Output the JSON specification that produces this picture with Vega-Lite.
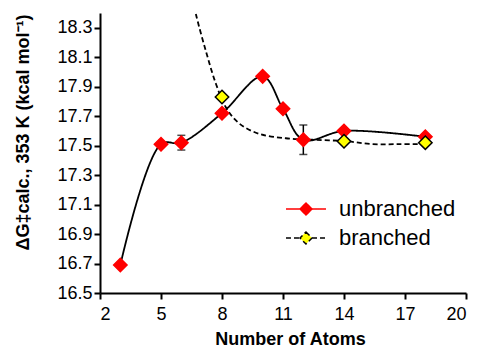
{
  "$schema": "https://vega.github.io/schema/vega-lite/v6.json",
  "autosize": {"type": "none"},
  "width": 366,
  "height": 280,
  "padding": {"left": 100, "top": 13, "right": 13, "bottom": 55},
  "background": "white",
  "config": {
    "font": "Liberation Sans",
    "view": {"stroke": null},
    "axis": {
      "domainColor": "black", "domainWidth": 2, "tickColor": "black", "tickWidth": 2, "tickSize": 6,
      "labelColor": "black", "labelFontSize": 18, "grid": false, "labelOverlap": false,
      "titleColor": "black", "titleFontSize": 18, "titleFontWeight": "bold"
    }
  },
  "data": {"values": [
    {"series": "unbranched", "kind": "point", "x": 3, "y": 16.69},
    {"series": "unbranched", "kind": "point", "x": 5, "y": 17.51},
    {"series": "unbranched", "kind": "point", "x": 6, "y": 17.52, "lo": 17.47, "hi": 17.57},
    {"series": "unbranched", "kind": "point", "x": 8, "y": 17.72},
    {"series": "unbranched", "kind": "point", "x": 10, "y": 17.97},
    {"series": "unbranched", "kind": "point", "x": 11, "y": 17.75},
    {"series": "unbranched", "kind": "point", "x": 12, "y": 17.54, "lo": 17.44, "hi": 17.64},
    {"series": "unbranched", "kind": "point", "x": 14, "y": 17.6},
    {"series": "unbranched", "kind": "point", "x": 18, "y": 17.56},
    {"series": "branched", "kind": "point", "x": 8, "y": 17.83},
    {"series": "branched", "kind": "point", "x": 14, "y": 17.53},
    {"series": "branched", "kind": "point", "x": 18, "y": 17.52},
    {"series": "branched", "kind": "curve", "x": 6.55, "y": 18.5},
    {"series": "branched", "kind": "curve", "x": 6.72, "y": 18.39},
    {"series": "branched", "kind": "curve", "x": 7.21, "y": 18.14},
    {"series": "branched", "kind": "curve", "x": 7.7, "y": 17.92},
    {"series": "branched", "kind": "curve", "x": 8.19, "y": 17.76},
    {"series": "branched", "kind": "curve", "x": 8.85, "y": 17.65},
    {"series": "branched", "kind": "curve", "x": 9.83, "y": 17.58},
    {"series": "branched", "kind": "curve", "x": 11.14, "y": 17.55},
    {"series": "branched", "kind": "curve", "x": 12.45, "y": 17.54},
    {"series": "branched", "kind": "curve", "x": 14.1, "y": 17.53},
    {"series": "branched", "kind": "curve", "x": 15.41, "y": 17.51},
    {"series": "branched", "kind": "curve", "x": 16.7, "y": 17.51},
    {"series": "branched", "kind": "curve", "x": 18, "y": 17.51}
  ]},
  "layer": [
    {
      "transform": [{"filter": "datum.kind == 'curve' || datum.series == 'unbranched'"}],
      "mark": {"type": "line", "interpolate": "catmull-rom", "color": "black", "strokeWidth": 1.8, "clip": true},
      "encoding": {
        "x": {"field": "x", "type": "quantitative", "scale": {"domain": [2, 20]}, "title": "Number of Atoms",
              "axis": {"values": [2, 5, 8, 11, 14, 17, 20], "tickCount": 7, "labelPadding": 6, "titleX": 190, "titleY": 51, "titleBaseline": "alphabetic"}},
        "y": {"field": "y", "type": "quantitative", "scale": {"domain": [16.5, 18.4], "zero": false, "nice": false},
              "title": "ΔG‡calc., 353 K  (kcal mol⁻¹)",
              "axis": {"values": [16.5, 16.7, 16.9, 17.1, 17.3, 17.5, 17.7, 17.9, 18.1, 18.3], "tickCount": 10, "format": ".1f", "labelPadding": 2, "titleY": 119, "titlePadding": 24}},
        "strokeDash": {"field": "series", "type": "nominal",
                       "scale": {"domain": ["unbranched", "branched"], "range": [[1, 0], [5, 3]]},
                       "legend": {"orient": "none", "legendX": 195, "legendY": 185, "title": null,
                                  "symbolType": "M-3,0H-0.9M0.9,0H3M0,-0.9L0.9,0L0,0.9L-0.9,0Z",
                                  "symbolSize": 178, "symbolStrokeWidth": 1.5, "symbolStrokeColor": "black",
                                  "labelFontSize": 22, "labelColor": "black", "labelOffset": 22, "rowPadding": 7,
                                  "encode": {"symbols": {"update": {"stroke": {"value": "black"}}}}}},
        "order": {"field": "x", "type": "quantitative"}
      }
    },
    {
      "transform": [{"filter": "isValid(datum.lo)"}],
      "mark": {"type": "errorbar", "ticks": {"size": 8, "thickness": 1.5, "color": "black"}, "rule": {"strokeWidth": 1.5, "color": "black"}},
      "encoding": {
        "x": {"field": "x", "type": "quantitative", "title": "Number of Atoms"},
        "y": {"field": "lo", "type": "quantitative", "title": "ΔG‡calc., 353 K  (kcal mol⁻¹)"},
        "y2": {"field": "hi"}
      }
    },
    {
      "transform": [{"filter": "datum.kind == 'point'"}],
      "mark": {"type": "point", "shape": "diamond", "filled": true, "size": 180, "strokeWidth": 1.5, "opacity": 1},
      "encoding": {
        "x": {"field": "x", "type": "quantitative", "title": "Number of Atoms"},
        "y": {"field": "y", "type": "quantitative", "title": "ΔG‡calc., 353 K  (kcal mol⁻¹)"},
        "fill": {"field": "series", "type": "nominal",
                 "scale": {"domain": ["unbranched", "branched"], "range": ["#ff0000", "#ffff00"]},
                 "legend": {"orient": "none", "legendX": 195, "legendY": 185, "title": null,
                            "symbolType": "M-3,0H-0.9M0.9,0H3M0,-0.9L0.9,0L0,0.9L-0.9,0Z",
                            "symbolSize": 178, "symbolStrokeWidth": 1.5, "symbolStrokeColor": "black",
                            "labelFontSize": 22, "labelColor": "black", "labelOffset": 22, "rowPadding": 7,
                            "encode": {"symbols": {"update": {"stroke": {"value": "black"}}}}}},
        "stroke": {"field": "series", "type": "nominal",
                   "scale": {"domain": ["unbranched", "branched"], "range": ["#ff0000", "#000000"]}, "legend": null}
      }
    }
  ]
}
